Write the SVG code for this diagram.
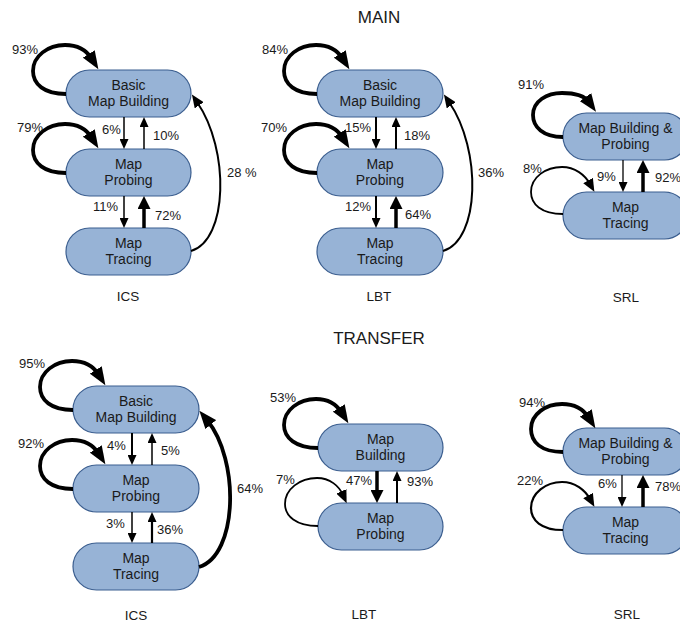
<svg xmlns="http://www.w3.org/2000/svg" width="680" height="623" viewBox="0 0 680 623">
<style>
text{font-family:"Liberation Sans",Arial,sans-serif;fill:#1a1a1a}
.n rect{fill:#97b3d6;stroke:#3b5e8f;stroke-width:1.2}
.n text{font-size:14px;text-anchor:middle}
.p{font-size:13px}
.c{font-size:13.5px;text-anchor:middle}
.h{font-size:17px;text-anchor:middle}
.e path{fill:none;stroke:#000}
</style>
<defs>
<marker id="s" viewBox="0 0 10 9" markerWidth="10" markerHeight="9" refX="3" refY="4.5" orient="auto" markerUnits="userSpaceOnUse"><path d="M0,0L10,4.5L0,9z" fill="#000"/></marker>
<marker id="m" viewBox="0 0 13 11" markerWidth="13" markerHeight="11" refX="4" refY="5.5" orient="auto" markerUnits="userSpaceOnUse"><path d="M0,0L13,5.5L0,11z" fill="#000"/></marker>
<marker id="t" viewBox="0 0 13 13" markerWidth="13" markerHeight="13" refX="4" refY="6.5" orient="auto" markerUnits="userSpaceOnUse"><path d="M0,0L13,6.5L0,13z" fill="#000"/></marker>
<marker id="L" viewBox="0 0 18 14" markerWidth="18" markerHeight="14" refX="6" refY="7" orient="auto" markerUnits="userSpaceOnUse"><path d="M0,0L18,7L0,14z" fill="#000"/></marker>
</defs>

<text class="h" x="379" y="23">MAIN</text>
<text class="h" x="379" y="344">TRANSFER</text>

<!-- Top ICS -->
<g id="m-ics-bmb" class="n"><rect x="66" y="70" width="125" height="47" rx="23.5"/><text x="128.5" y="90">Basic</text><text x="128.5" y="106">Map Building</text></g>
<g id="m-ics-mp" class="n"><rect x="66" y="149" width="125" height="47" rx="23.5"/><text x="128.5" y="169">Map</text><text x="128.5" y="185">Probing</text></g>
<g id="m-ics-mt" class="n"><rect x="66" y="228" width="125" height="47" rx="23.5"/><text x="128.5" y="248">Map</text><text x="128.5" y="264">Tracing</text></g>

<!-- Top LBT -->
<g id="m-lbt-bmb" class="n"><rect x="317" y="70" width="126" height="47" rx="23.5"/><text x="380" y="90">Basic</text><text x="380" y="106">Map Building</text></g>
<g id="m-lbt-mp" class="n"><rect x="317" y="149" width="126" height="47" rx="23.5"/><text x="380" y="169">Map</text><text x="380" y="185">Probing</text></g>
<g id="m-lbt-mt" class="n"><rect x="317" y="228" width="126" height="47" rx="23.5"/><text x="380" y="248">Map</text><text x="380" y="264">Tracing</text></g>

<!-- Top SRL -->
<g id="m-srl-mbp" class="n"><rect x="563" y="113" width="125" height="47" rx="23.5"/><text x="625.5" y="133">Map Building &amp;</text><text x="625.5" y="149">Probing</text></g>
<g id="m-srl-mt" class="n"><rect x="563" y="192" width="125" height="47" rx="23.5"/><text x="625.5" y="212">Map</text><text x="625.5" y="228">Tracing</text></g>

<!-- Bottom ICS -->
<g id="t-ics-bmb" class="n"><rect x="73" y="386" width="126" height="47" rx="23.5"/><text x="136" y="406">Basic</text><text x="136" y="422">Map Building</text></g>
<g id="t-ics-mp" class="n"><rect x="73" y="465" width="126" height="47" rx="23.5"/><text x="136" y="485">Map</text><text x="136" y="501">Probing</text></g>
<g id="t-ics-mt" class="n"><rect x="73" y="543" width="126" height="47" rx="23.5"/><text x="136" y="563">Map</text><text x="136" y="579">Tracing</text></g>

<!-- Bottom LBT -->
<g id="t-lbt-mb" class="n"><rect x="318" y="424" width="125" height="47" rx="23.5"/><text x="380.5" y="444">Map</text><text x="380.5" y="460">Building</text></g>
<g id="t-lbt-mp" class="n"><rect x="318" y="503" width="125" height="47" rx="23.5"/><text x="380.5" y="523">Map</text><text x="380.5" y="539">Probing</text></g>

<!-- Bottom SRL -->
<g id="t-srl-mbp" class="n"><rect x="563" y="428" width="125" height="47" rx="23.5"/><text x="625.5" y="448">Map Building &amp;</text><text x="625.5" y="464">Probing</text></g>
<g id="t-srl-mt" class="n"><rect x="563" y="507" width="125" height="47" rx="23.5"/><text x="625.5" y="527">Map</text><text x="625.5" y="543">Tracing</text></g>

<g id="connectors" class="e">
<!-- top ICS -->
<path d="M66,94 C44,94 33,84 33,71 C33,56 48,45 65,45 C78,45 87,51 92,59" stroke-width="3.8" marker-end="url(#L)"/>
<path d="M66,173 C44,173 33,163 33,150 C33,135 48,124 65,124 C78,124 87,130 92,138" stroke-width="3.8" marker-end="url(#L)"/>
<path d="M124,117 L124,142" stroke-width="1.5" marker-end="url(#s)"/>
<path d="M144,149 L144,124" stroke-width="1.5" marker-end="url(#s)"/>
<path d="M124,196 L124,221" stroke-width="1.5" marker-end="url(#s)"/>
<path d="M144,228 L144,205" stroke-width="3.5" marker-end="url(#t)"/>
<path d="M191,251 C228,240 230,150 197,102" stroke-width="2" marker-end="url(#m)"/>
<!-- top LBT -->
<path d="M317,94 C295,94 284,84 284,71 C284,56 299,45 316,45 C329,45 338,51 343,59" stroke-width="3.8" marker-end="url(#L)"/>
<path d="M317,173 C295,173 284,163 284,150 C284,135 299,124 316,124 C329,124 338,130 343,138" stroke-width="3.8" marker-end="url(#L)"/>
<path d="M376,117 L376,142" stroke-width="2" marker-end="url(#s)"/>
<path d="M396,149 L396,124" stroke-width="2" marker-end="url(#s)"/>
<path d="M376,196 L376,221" stroke-width="2" marker-end="url(#s)"/>
<path d="M396,228 L396,205" stroke-width="3.5" marker-end="url(#t)"/>
<path d="M443,251 C480,240 482,150 449,102" stroke-width="2" marker-end="url(#m)"/>
<!-- top SRL -->
<path d="M563,137 C543,137 533,127 533,115 C533,101 547,93 562,93 C575,93 584,95 589,102" stroke-width="3.8" marker-end="url(#L)"/>
<path d="M563,214 C541,214 531,204 531,192 C531,177 546,167 562,167 C575,167 585,175 590,184" stroke-width="1.8" marker-end="url(#m)"/>
<path d="M623,160 L623,185" stroke-width="1.3" marker-end="url(#s)"/>
<path d="M643,192 L643,169" stroke-width="3.5" marker-end="url(#t)"/>
<!-- bottom ICS -->
<path d="M73,410 C51,410 40,400 40,387 C40,372 55,361 72,361 C85,361 94,367 99,375" stroke-width="3.8" marker-end="url(#L)"/>
<path d="M73,489 C51,489 40,479 40,466 C40,451 55,440 72,440 C85,440 94,446 99,454" stroke-width="3.8" marker-end="url(#L)"/>
<path d="M132,433 L132,458" stroke-width="2" marker-end="url(#s)"/>
<path d="M152,465 L152,440" stroke-width="1.5" marker-end="url(#s)"/>
<path d="M132,512 L132,536" stroke-width="1.5" marker-end="url(#s)"/>
<path d="M152,543 L152,519" stroke-width="2.2" marker-end="url(#s)"/>
<path d="M199,567 C238,555 240,460 207,420" stroke-width="3.8" marker-end="url(#L)"/>
<!-- bottom LBT -->
<path d="M318,448 C296,448 284,438 284,425 C284,410 299,399 316,399 C329,399 337,405 342,413" stroke-width="3.8" marker-end="url(#L)"/>
<path d="M318,526 C296,526 285,516 285,504 C285,489 300,478 317,478 C330,478 339,486 343,495" stroke-width="1.8" marker-end="url(#m)"/>
<path d="M377,471 L377,494" stroke-width="3.5" marker-end="url(#t)"/>
<path d="M397,503 L397,478" stroke-width="2" marker-end="url(#s)"/>
<!-- bottom SRL -->
<path d="M563,452 C541,452 531,442 531,429 C531,414 546,404 562,404 C575,404 584,410 589,418" stroke-width="3.8" marker-end="url(#L)"/>
<path d="M563,530 C541,530 531,520 531,508 C531,493 546,482 562,482 C575,482 585,490 590,499" stroke-width="2.2" marker-end="url(#m)"/>
<path d="M622,475 L622,500" stroke-width="1.3" marker-end="url(#s)"/>
<path d="M643,507 L643,484" stroke-width="3.5" marker-end="url(#t)"/>
</g>

<g id="labels">
<text class="p" x="12" y="54">93%</text>
<text class="p" x="17" y="132">79%</text>
<text class="p" x="102" y="134">6%</text>
<text class="p" x="153" y="140">10%</text>
<text class="p" x="93" y="211">11%</text>
<text class="p" x="155" y="220">72%</text>
<text class="p" x="227" y="177">28 %</text>
<text class="c" x="128" y="301">ICS</text>

<text class="p" x="262" y="54">84%</text>
<text class="p" x="261" y="132">70%</text>
<text class="p" x="345" y="132">15%</text>
<text class="p" x="404" y="140">18%</text>
<text class="p" x="345" y="211">12%</text>
<text class="p" x="405" y="219">64%</text>
<text class="p" x="478" y="177">36%</text>
<text class="c" x="379" y="301">LBT</text>

<text class="p" x="518" y="89">91%</text>
<text class="p" x="523" y="173">8%</text>
<text class="p" x="597" y="181">9%</text>
<text class="p" x="655" y="182">92%</text>
<text class="c" x="626" y="302">SRL</text>

<text class="p" x="19" y="368">95%</text>
<text class="p" x="18" y="448">92%</text>
<text class="p" x="107" y="450">4%</text>
<text class="p" x="161" y="455">5%</text>
<text class="p" x="106" y="528">3%</text>
<text class="p" x="157" y="534">36%</text>
<text class="p" x="237" y="493">64%</text>
<text class="c" x="136" y="620">ICS</text>

<text class="p" x="270" y="402">53%</text>
<text class="p" x="276" y="484">7%</text>
<text class="p" x="346" y="485">47%</text>
<text class="p" x="407" y="486">93%</text>
<text class="c" x="364" y="619">LBT</text>

<text class="p" x="519" y="407">94%</text>
<text class="p" x="517" y="485">22%</text>
<text class="p" x="598" y="488">6%</text>
<text class="p" x="655" y="491">78%</text>
<text class="c" x="627" y="619">SRL</text>
</g>
</svg>
